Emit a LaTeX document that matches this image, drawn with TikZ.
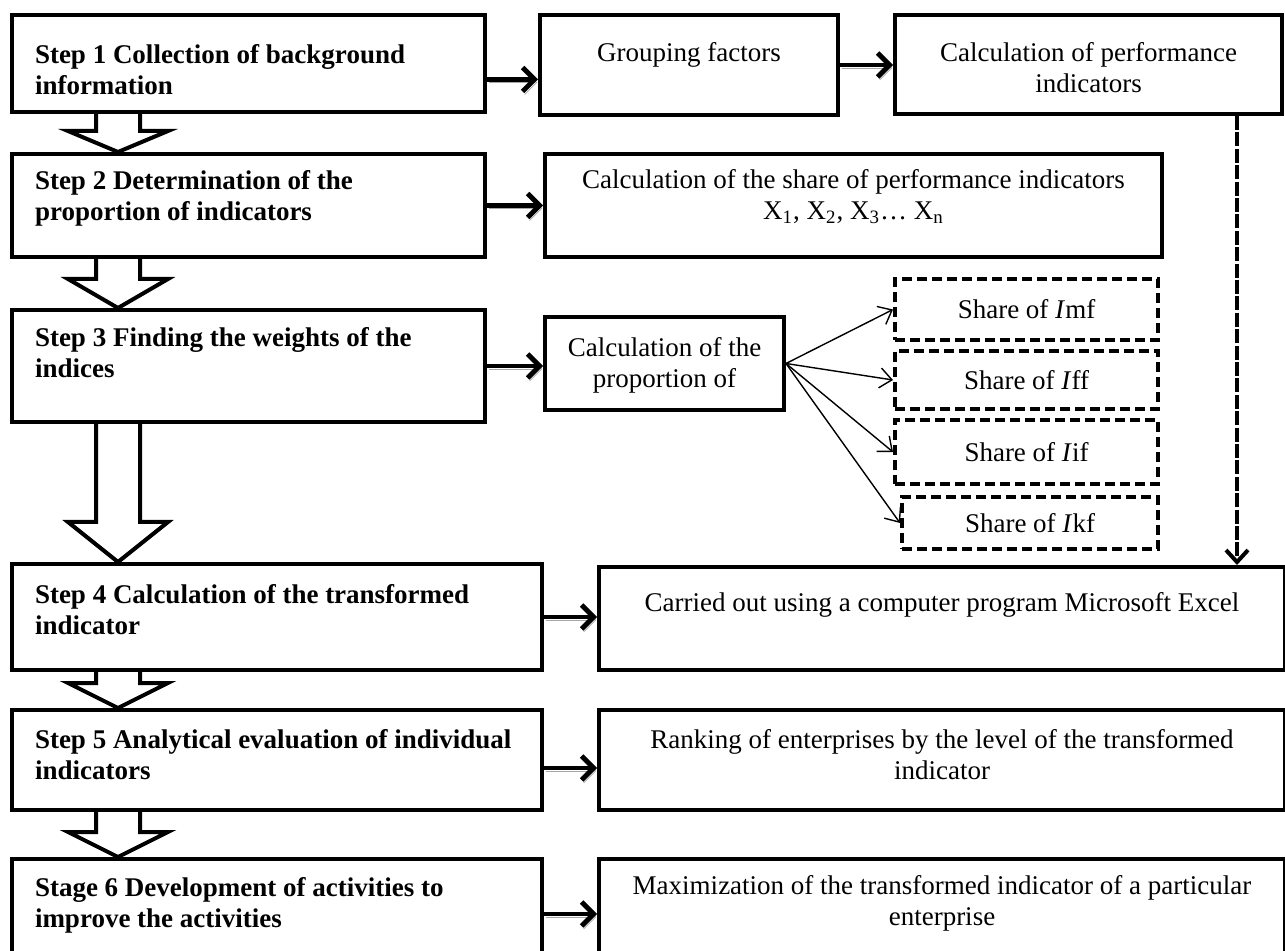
\documentclass[tikz,border=0pt]{standalone}
\usepackage{fontspec}
\setmainfont{Liberation Serif}
\usetikzlibrary{positioning, arrows.meta, calc}

\newlength\pxu
\setlength\pxu{0.5pt}
\newcommand{\steptext}[4]{\parbox[t][#1\pxu][t]{#2\pxu}{\raggedright\vspace*{#3\pxu}#4}}
\newcommand{\midtext}[4]{\parbox[t][#1\pxu][t]{#2\pxu}{\centering\vspace*{#3\pxu}#4}}
\newcommand{\hollowdown}[3]{%
  \draw[hollowarrow] let \p1=(#1.south), \p2=(#2.north) in
    (48pt,\y1) -- (48pt,\y2+#3) -- (34pt,\y2+#3) -- (59pt,\y2)
    -- (84pt,\y2+#3) -- (70pt,\y2+#3) -- (70pt,\y1);}

\tikzset{
  stepbox/.style={draw, line width=2pt, inner xsep=11.5pt, inner ysep=0pt,
                  anchor=north west, font=\bfseries},
  factbox/.style={draw, line width=2pt, inner xsep=5pt, inner ysep=0pt,
                  anchor=north west},
  sharebox/.style={draw, line width=2pt, dash pattern=on 5pt off 2.5pt,
                   inner sep=0pt, anchor=north west},
  sidearrow/.style={line width=2.4pt, -{Straight Barb[length=6pt,width=12pt]},
                    preaction={draw=black!35, transform canvas={shift={(1pt,-1.5pt)}}}},
  fanarrow/.style={line width=0.7pt, -{Straight Barb[length=6pt,width=10pt]}},
  dashlink/.style={line width=2pt, dash pattern=on 7pt off 1.2pt,
                   -{Straight Barb[length=6pt,width=11pt]}},
  hollowarrow/.style={draw, line width=2pt, line join=miter},
}

\begin{document}
\fontsize{13.5pt}{15.5pt}\selectfont
\begin{tikzpicture}[x=0.5pt, y=-0.5pt]
  \fill[white, use as bounding box] (0,0) rectangle (1285,951);

  % steps
  \node[stepbox] (s1) at (10,13)  {\steptext{97}{427}{29}{Step 1 Collection of background\\information}};
  \node[stepbox] (s2) at (10,152) {\steptext{103}{427}{16}{Step 2 Determination of the\\proportion of indicators}};
  \node[stepbox] (s3) at (10,308) {\steptext{112}{427}{17}{Step 3 Finding the weights of the\\indices}};
  \node[stepbox] (s4) at (10,562) {\steptext{106}{484}{20}{Step 4 Calculation of the transformed\\indicator}};
  \node[stepbox] (s5) at (10,708) {\steptext{100}{484}{19}{Step 5 Analytical evaluation of individual\\indicators}};
  \node[stepbox] (s6) at (10,857) {\steptext{110}{484}{18}{Stage 6 Development of activities to\\improve the activities}};

  % right column
  \node[factbox] (grp)     at (538,13)  {\midtext{100}{278}{27}{Grouping factors}};
  \node[factbox] (perf)    at (893,13)  {\midtext{99}{367}{27}{Calculation of performance\\indicators}};
  \node[factbox] (share)   at (543,152) {\midtext{103}{597}{15}{Calculation of the share of performance indicators\\
      X\textsubscript{1}, X\textsubscript{2}, X\textsubscript{3}… X\textsubscript{n}}};
  \node[factbox] (prop)    at (543,315) {\midtext{93}{219}{20}{Calculation of the\\proportion of}};
  \node[factbox] (carried) at (597,565) {\midtext{103}{666}{25}{Carried out using a computer program Microsoft Excel}};
  \node[factbox] (rank)    at (597,708) {\midtext{100}{666}{19}{Ranking of enterprises by the level of the transformed\\indicator}};
  \node[factbox] (maxim)   at (597,857) {\midtext{110}{666}{16}{Maximization of the transformed indicator of a particular\\enterprise}};

  % shares
  \node[sharebox, minimum width=131.5pt, minimum height=30.5pt] (imf) at (893,277) {Share of \textit{I}mf};
  \node[sharebox, minimum width=131.5pt, minimum height=29pt]   (iff) at (893,349) {Share of \textit{I}ff};
  \node[sharebox, minimum width=131.5pt, minimum height=32pt]   (iif) at (893,418) {Share of \textit{I}if};
  \node[sharebox, minimum width=128pt,   minimum height=26pt]   (ikf) at (900,495) {Share of \textit{I}kf};

  % big down arrows
  \hollowdown{s1}{s2}{10.5pt}
  \hollowdown{s2}{s3}{14.5pt}
  \hollowdown{s3}{s4}{20pt}
  \hollowdown{s4}{s5}{12.5pt}
  \hollowdown{s5}{s6}{12.5pt}

  % side arrows
  \draw[sidearrow] ([yshift=-8pt]s1.east) -- ([yshift=-8pt]s1.east -| grp.west);
  \draw[sidearrow] (s2.east) -- (s2.east -| share.west);
  \draw[sidearrow] (s3.east) -- (s3.east -| prop.west);
  \draw[sidearrow] (s4.east) -- (s4.east -| carried.west);
  \draw[sidearrow] ([yshift=-4pt]s5.east) -- ([yshift=-4pt]s5.east -| rank.west);
  \draw[sidearrow] (s6.east) -- (s6.east -| maxim.west);
  \draw[sidearrow] (grp.east) -- (grp.east -| perf.west);

  \foreach \t in {imf,iff,iif,ikf}
    \draw[fanarrow] (prop.east) -- (\t.west);

  \coordinate (dashx) at (1237,0);
  \draw[dashlink] (perf.south -| dashx) -- (carried.north -| dashx);
\end{tikzpicture}
\end{document}
